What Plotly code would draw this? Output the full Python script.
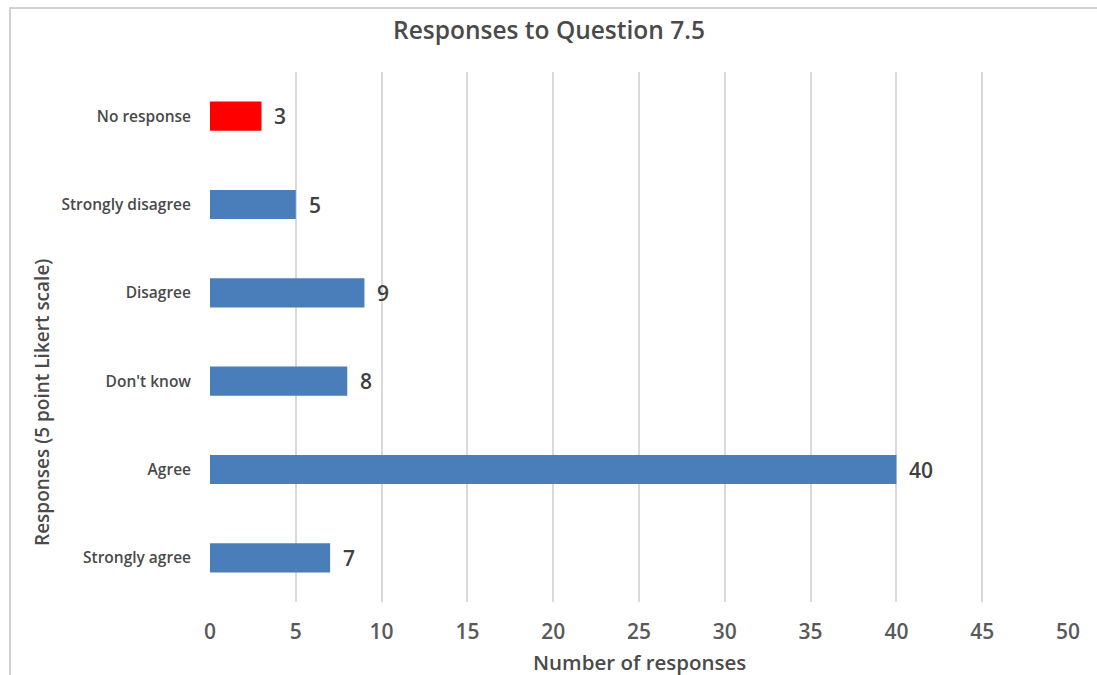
import plotly.graph_objects as go

categories = ["Strongly agree", "Agree", "Don't know", "Disagree", "Strongly disagree", "No response"]
values = [7, 40, 8, 9, 5, 3]
bar_colors = ["#4a7ebb", "#4a7ebb", "#4a7ebb", "#4a7ebb", "#4a7ebb", "#ff0000"]
x_ticks = [0, 5, 10, 15, 20, 25, 30, 35, 40, 45, 50]

title_text = "Responses to Question 7.5"
x_title = "Number of responses"
y_title = "Responses (5 point Likert scale)"

FONT = "Open Sans, Noto Sans, sans-serif"
W = 600
TXT = "#4a4a4a"

fig = go.Figure()
fig.add_trace(go.Bar(
    x=values, y=categories, orientation="h",
    marker=dict(color=bar_colors, line=dict(width=0)),
    hoverinfo="x+y",
))

annotations = []
for c, v in zip(categories, values):
    annotations.append(dict(x=v, y=c, xref="x", yref="y", text=str(v),
                            showarrow=False, xanchor="left", xshift=11,
                            font=dict(family=FONT, size=21, color="#404040", weight=W)))
# y axis title, positioned like the reference (below plot centre)
annotations.append(dict(x=(42 - 210) / 858, y=(602 - 403) / 530, xref="paper", yref="paper",
                        text=y_title, textangle=-90, showarrow=False,
                        xanchor="center", yanchor="middle",
                        font=dict(family=FONT, size=19, color=TXT, weight=W)))
# x axis title
annotations.append(dict(x=(639 - 210) / 858, y=(602 - 662) / 530, xref="paper", yref="paper",
                        text=x_title, showarrow=False, xanchor="center", yanchor="middle",
                        font=dict(family=FONT, size=20.5, color=TXT, weight=W)))

fig.update_layout(
    width=1097, height=675,
    margin=dict(l=210, r=29, t=72, b=73),
    paper_bgcolor="white", plot_bgcolor="white",
    bargap=0.67,
    showlegend=False,
    font=dict(family=FONT, color="#595959"),
    annotations=annotations,
    title=dict(text=title_text, xref="container", x=549 / 1097, xanchor="center",
               yref="container", y=1 - 30 / 675, yanchor="middle",
               font=dict(family=FONT, size=24.5, color=TXT, weight=W)),
)

fig.update_xaxes(
    range=[0, 50], tickvals=x_ticks, showgrid=True, gridcolor="#d9d9d9", gridwidth=2,
    zeroline=False, showline=False, ticks="", ticklabelstandoff=15, automargin=False,
    tickfont=dict(family=FONT, size=21, color="#595959", weight=W),
    fixedrange=True,
)
fig.update_yaxes(
    type="category", categoryorder="array", categoryarray=categories,
    showgrid=False, zeroline=False, showline=False, ticks="", ticklabelstandoff=18,
    automargin=False,
    tickfont=dict(family=FONT, size=15.5, color=TXT, weight=W),
    fixedrange=True,
)

# outer chart border (light grey frame)
fig.add_shape(type="rect", xref="paper", yref="paper",
              x0=-200 / 858, x1=1.2, y0=-0.5, y1=1 + 64 / 530,
              line=dict(color="#d0d0d0", width=2), fillcolor="rgba(0,0,0,0)", layer="below")

fig.write_html("out.html")
